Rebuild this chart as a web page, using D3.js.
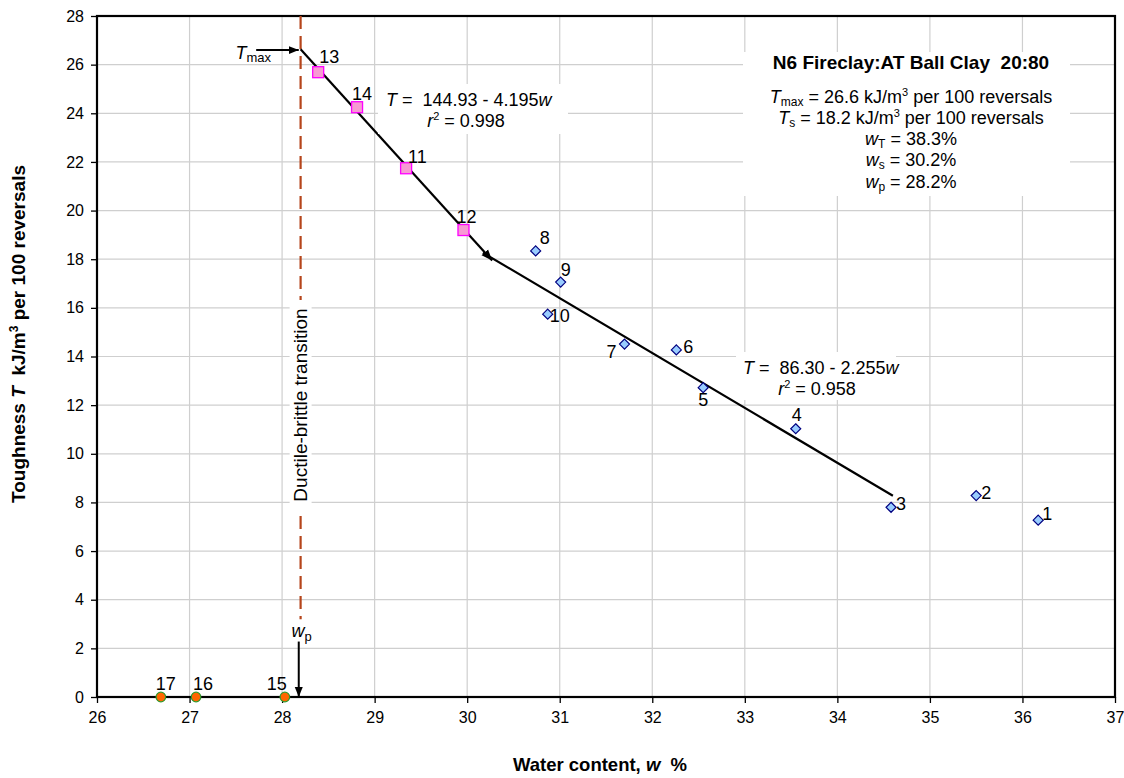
<!DOCTYPE html>
<html><head><meta charset="utf-8">
<script src="https://cdn.jsdelivr.net/npm/d3@7"></script>
<style>
html,body{margin:0;padding:0;background:#fff;}
svg text{font-family:"Liberation Sans",Arial,sans-serif;}
</style></head>
<body><svg id="c" width="1124" height="778"></svg>
<script>
// ---- data ----
const pointIds = ["1","2","3","4","5","6","7","8","9","10","11","12","13","14","15","16","17"];
const waterW   = [36.17,35.50,34.58,33.55,32.55,32.26,31.70,30.74,31.01,30.87,29.34,29.96,28.39,28.81,28.03,27.07,26.69];
const toughT   = [7.27,8.28,7.80,11.03,12.72,14.27,14.51,18.34,17.06,15.74,21.74,19.20,25.69,24.25,0,0,0];
const groupOf  = ["b","b","b","b","b","b","b","b","b","b","p","p","p","p","o","o","o"]; // b: brittle, p: plastic, o: non-plastic
const xTicks = [26,27,28,29,30,31,32,33,34,35,36,37];
const yTicks = [0,2,4,6,8,10,12,14,16,18,20,22,24,26,28];
const fit1 = {a:144.93, b:4.195, w0:28.2, w1:30.27, label:"144.93 - 4.195", r2:"0.998"};
const fit2 = {a:86.30, b:2.255, w0:30.17, w1:34.6, label:"86.30 - 2.255", r2:"0.958"};
const wP = 28.2, Tmax = 26.6;
// label offsets (px) [dx, dy] from marker centre, per point
const labelOff = [[4,0],[5,3],[5,3],[-4,-8],[-5,18],[7,3],[-18,14],[4,-7],[0,-6],[2,8],[2,-5],[-7,-7],[1,-9],[-5,-7],[-18,-7],[-3,-7],[-5,-7]];

const svg = d3.select("#c");
const L=97, R=1115, T=16, B=697;
const x = d3.scaleLinear().domain([26,37]).range([L,R]);
const y = d3.scaleLinear().domain([0,28]).range([B,T]);

const defs = svg.append("defs");
defs.append("marker").attr("id","ah").attr("viewBox","0 0 10 10").attr("refX",10).attr("refY",5)
  .attr("markerWidth",5).attr("markerHeight",5).attr("orient","auto-start-reverse").attr("markerUnits","strokeWidth")
  .append("path").attr("d","M0,1 L10,5 L0,9 Z").attr("fill","#000");

// gridlines
const g = svg.append("g");
g.selectAll(".gx").data(xTicks.slice(1,-1)).join("line")
  .attr("x1",d=>x(d)).attr("x2",d=>x(d)).attr("y1",T).attr("y2",B)
  .attr("stroke","#cfcfcf").attr("stroke-width",1.2);
g.selectAll(".gy").data(yTicks.slice(1,-1)).join("line")
  .attr("y1",d=>y(d)).attr("y2",d=>y(d)).attr("x1",L).attr("x2",R)
  .attr("stroke","#cfcfcf").attr("stroke-width",1.2);

// axes
const xa = svg.append("g").attr("transform",`translate(0,${B})`)
  .call(d3.axisBottom(x).tickValues(xTicks).tickSize(6).tickPadding(9).tickFormat(d3.format("d")));
const ya = svg.append("g").attr("transform",`translate(${L},0)`)
  .call(d3.axisLeft(y).tickValues(yTicks).tickSize(6).tickPadding(7).tickFormat(d3.format("d")));
[xa,ya].forEach(a=>{
  a.select(".domain").remove();
  a.selectAll(".tick line").attr("stroke","#000").attr("stroke-width",1.3);
  a.selectAll(".tick text").attr("font-size",16).attr("fill","#000").style("font-family","Liberation Sans, Arial, sans-serif");
});
svg.append("rect").attr("x",L).attr("y",T).attr("width",R-L).attr("height",B-T)
  .attr("fill","none").attr("stroke","#000").attr("stroke-width",2.2);

// axis titles
const xt = svg.append("text").attr("x",600).attr("y",771).attr("text-anchor","middle")
  .attr("font-size",18.5).attr("font-weight","bold").attr("xml:space","preserve");
xt.append("tspan").text("Water content, ");
xt.append("tspan").attr("font-style","italic").text("w");
xt.append("tspan").text("  %");
const yt = svg.append("text").attr("transform","translate(25,334) rotate(-90)").attr("text-anchor","middle")
  .attr("font-size",19).attr("font-weight","bold").attr("xml:space","preserve");
yt.append("tspan").text("Toughness ");
yt.append("tspan").attr("font-style","italic").text("T");
yt.append("tspan").text("  kJ/m");
yt.append("tspan").attr("font-size",12).attr("dy",-7).text("3");
yt.append("tspan").attr("dy",7).text(" per 100 reversals");

// ductile-brittle transition line
svg.append("line").attr("x1",x(wP)).attr("x2",x(wP)).attr("y1",y(28)).attr("y2",y(3.2))
  .attr("stroke","#b5451b").attr("stroke-width",2.2).attr("stroke-dasharray","13,7");
svg.append("rect").attr("x",x(wP)-11).attr("y",300).attr("width",22).attr("height",210).attr("fill","#fff");
svg.append("text").attr("transform",`translate(${x(wP)+6},405) rotate(-90)`).attr("text-anchor","middle")
  .attr("font-size",19).text("Ductile-brittle transition");

// regression lines
const ln = d3.line().x(d=>x(d[0])).y(d=>y(d[1]));
[fit1,fit2].forEach((f,i)=>{
  svg.append("path").attr("d",ln([[f.w0,f.a-f.b*f.w0],[f.w1,f.a-f.b*f.w1]]))
    .attr("stroke","#000").attr("stroke-width",2.2).attr("fill","none")
    .attr("marker-end", i===0 ? "url(#ah)" : null);
});

// equation labels
function eqLabel(f, bx, by, bw, bh, tx, ty, rx, ry){
  svg.append("rect").attr("x",bx).attr("y",by).attr("width",bw).attr("height",bh).attr("fill","#fff");
  const t = svg.append("text").attr("x",tx).attr("y",ty).attr("font-size",18).attr("xml:space","preserve");
  t.append("tspan").attr("font-style","italic").text("T");
  t.append("tspan").text(" =  " + f.label);
  t.append("tspan").attr("font-style","italic").text("w");
  const r = svg.append("text").attr("x",rx).attr("y",ry).attr("font-size",18).attr("text-anchor","middle");
  r.append("tspan").attr("font-style","italic").text("r");
  r.append("tspan").attr("font-size",11).attr("dy",-7).text("2");
  r.append("tspan").attr("dy",7).text(" = " + f.r2);
}
eqLabel(fit1, 378, 84, 190, 50, 386, 106, 466, 127);
eqLabel(fit2, 736, 352, 160, 48, 743, 374, 817, 395);

// info box
svg.append("rect").attr("x",743).attr("y",52).attr("width",327).attr("height",144).attr("fill","#fff");
const cx = 911;
svg.append("text").attr("x",cx).attr("y",69).attr("text-anchor","middle").attr("font-size",19).attr("font-weight","bold")
  .attr("xml:space","preserve").text("N6 Fireclay:AT Ball Clay  20:80");
function infoLine(yy, sym, sub, rest, sup, rest2){
  const t = svg.append("text").attr("x",cx).attr("y",yy).attr("text-anchor","middle").attr("font-size",18);
  t.append("tspan").attr("font-style","italic").text(sym);
  t.append("tspan").attr("font-size",12).attr("dy",3).text(sub);
  t.append("tspan").attr("dy",-3).text(rest);
  if(sup){
    t.append("tspan").attr("font-size",11).attr("dy",-7).text(sup);
    t.append("tspan").attr("dy",7).text(rest2);
  }
}
infoLine(103,"T","max"," = 26.6 kJ/m","3"," per 100 reversals");
infoLine(124,"T","s"," = 18.2 kJ/m","3"," per 100 reversals");
infoLine(145,"w","T"," = 38.3%");
infoLine(166,"w","s"," = 30.2%");
infoLine(188,"w","p"," = 28.2%");

// Tmax arrow and label
svg.append("line").attr("x1",x(27.72)).attr("x2",x(28.18)).attr("y1",y(Tmax)).attr("y2",y(Tmax))
  .attr("stroke","#000").attr("stroke-width",2).attr("marker-end","url(#ah)");
const tm = svg.append("text").attr("x",271).attr("y",59).attr("text-anchor","end").attr("font-size",18);
tm.append("tspan").attr("font-style","italic").text("T");
tm.append("tspan").attr("font-size",13).attr("dy",3).text("max");
// wp arrow and label
svg.append("line").attr("x1",x(28.18)).attr("x2",x(28.18)).attr("y1",y(2.28)).attr("y2",y(0))
  .attr("stroke","#000").attr("stroke-width",2).attr("marker-end","url(#ah)");
const wl = svg.append("text").attr("x",x(28.2)+1).attr("y",637).attr("text-anchor","middle").attr("font-size",18);
wl.append("tspan").attr("font-style","italic").text("w");
wl.append("tspan").attr("font-size",13).attr("dy",4).text("p");

// points
const pts = pointIds.map((id,i)=>({id, w:waterW[i], t:toughT[i], g:groupOf[i], off:labelOff[i]}));
const pg = svg.append("g");
pts.forEach(p=>{
  const px=x(p.w), py=y(p.t);
  if(p.g==="p"){
    pg.append("rect").attr("x",px-5.5).attr("y",py-5.5).attr("width",11).attr("height",11)
      .attr("fill","#f79ad3").attr("stroke","#ff00ff").attr("stroke-width",1.3);
  } else if(p.g==="b"){
    pg.append("path").attr("d",`M${px},${py-5} L${px+5},${py} L${px},${py+5} L${px-5},${py} Z`)
      .attr("fill","#99ccff").attr("stroke","#000080").attr("stroke-width",1.2);
  } else {
    pg.append("circle").attr("cx",px).attr("cy",py).attr("r",4.8)
      .attr("fill","#ff6600").attr("stroke","#2e9a2e").attr("stroke-width",1.2);
  }
  pg.append("text").attr("x",px+p.off[0]).attr("y",py+p.off[1]).attr("font-size",18).text(p.id);
});
</script></body></html>
